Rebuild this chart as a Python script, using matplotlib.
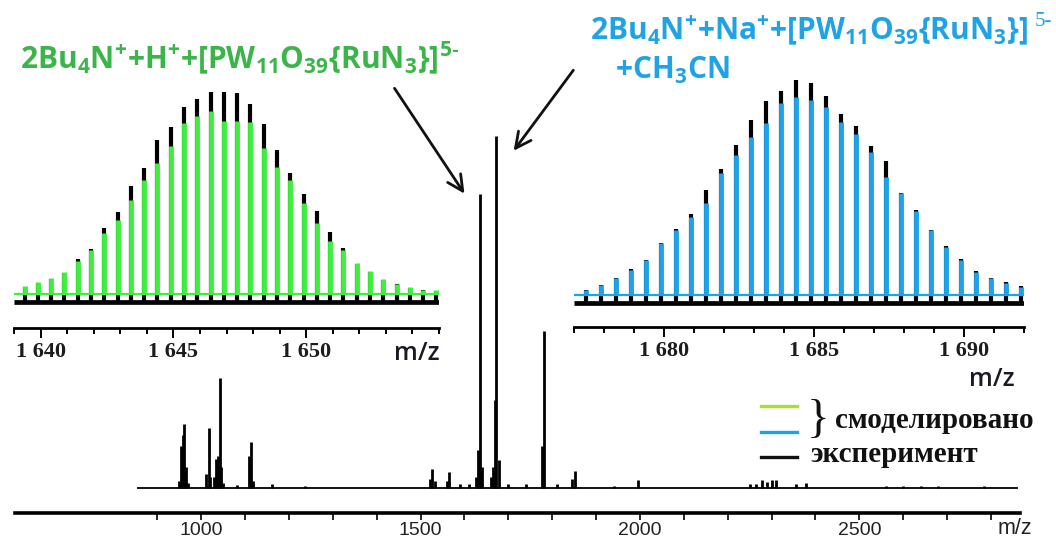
import matplotlib
matplotlib.use('Agg')
import matplotlib.pyplot as plt
from matplotlib.lines import Line2D
from matplotlib.patches import FancyArrowPatch

plt.rcParams['mathtext.fontset'] = 'custom'
plt.rcParams['mathtext.rm'] = 'Open Sans'
plt.rcParams['mathtext.bf'] = 'Open Sans:bold'
plt.rcParams['mathtext.it'] = 'Open Sans:italic'

# ---------------- data ----------------
# full spectrum: m/z and relative intensity (%)
main_mz = [950, 954, 958, 962, 966, 970, 1011, 1017, 1021, 1030, 1034, 1038, 1042, 1046, 1050,
           1081, 1110, 1114, 1118, 1161, 1237, 1522, 1527, 1532, 1560, 1565, 1590, 1610, 1626,
           1630, 1635, 1640, 1660, 1665, 1669, 1673, 1678, 1700, 1740, 1776, 1781, 1810, 1846,
           1851, 1942, 1995, 2250, 2265, 2279, 2290, 2301, 2310, 2356, 2379, 2560, 2600, 2640,
           2680, 2784]
main_int = [2.0, 11.9, 15.0, 18.2, 6.0, 1.5, 4.0, 17.0, 3.0, 3.0, 8.2, 9.0, 31.2, 6.0, 1.5,
            0.8, 9.1, 13.1, 2.0, 1.2, 0.6, 2.5, 5.4, 2.0, 2.0, 4.5, 1.0, 1.0, 3.0,
            10.8, 83.5, 6.0, 3.0, 6.0, 25.0, 100.0, 8.0, 1.0, 1.0, 12.0, 44.6, 1.0, 2.5,
            4.8, 0.6, 2.3, 1.0, 1.2, 2.3, 1.6, 2.3, 2.3, 1.1, 1.4, 0.5, 0.5, 0.5,
            0.5, 0.6]
main_ticks = [1000, 1500, 2000, 2500]
main_minor = [900, 1100, 1200, 1300, 1400, 1600, 1700, 1800, 1900, 2100, 2200, 2300, 2400,
              2600, 2700, 2800]

# left inset: 2Bu4N+ + H+ + [PW11O39{RuN3}]5-
iso1_mz = [1639.4, 1639.9, 1640.4, 1640.9, 1641.4, 1641.9, 1642.4, 1642.9, 1643.4, 1643.9,
           1644.4, 1644.9, 1645.4, 1645.9, 1646.4, 1646.9, 1647.4, 1647.9, 1648.4, 1648.9,
           1649.4, 1649.9, 1650.4, 1650.9, 1651.4, 1651.9, 1652.4, 1652.9, 1653.4, 1653.9,
           1654.4, 1654.9]
iso1_sim = [8, 12, 16, 22, 33, 44, 61, 74, 94, 114, 131, 148, 171, 178, 183, 173, 173, 172,
            146, 127, 114, 91, 71, 53, 44, 31, 23, 15, 10, 7, 4, 4]
iso1_exp = [15, 19, 23, 29, 43, 53, 74, 90, 116, 134, 162, 175, 195, 203, 210, 210, 209, 198,
            178, 152, 129, 108, 91, 70, 54, 38, 30, 22, 18, 14, 12, 11]
iso1_ticks = [1640, 1645, 1650]
iso1_labels = ['1 640', '1 645', '1 650']

# right inset: 2Bu4N+ + Na+ + [PW11O39{RuN3}]5- + CH3CN
iso2_mz = [1677.4, 1677.9, 1678.4, 1678.9, 1679.4, 1679.9, 1680.4, 1680.9, 1681.4, 1681.9,
           1682.4, 1682.9, 1683.4, 1683.9, 1684.4, 1684.9, 1685.4, 1685.9, 1686.4, 1686.9,
           1687.4, 1687.9, 1688.4, 1688.9, 1689.4, 1689.9, 1690.4, 1690.9, 1691.4, 1691.9]
iso2_sim = [5, 10, 17, 25, 35, 52, 65, 78, 92, 122, 140, 158, 172, 192, 198, 195, 188, 173,
            161, 143, 118, 102, 84, 65, 48, 35, 23, 17, 12, 8]
iso2_exp = [13, 18, 25, 34, 43, 60, 74, 89, 113, 134, 158, 183, 202, 212, 223, 220, 207, 189,
            177, 157, 142, 110, 93, 73, 57, 44, 32, 25, 21, 17]
iso2_ticks = [1680, 1685, 1690]
iso2_labels = ['1 680', '1 685', '1 690']

GREEN = '#3cf03c'
BLUE = '#1ea3ea'
TGREEN = '#3bb54a'
TBLUE = '#1fa3e4'
LGREEN = '#a6e22a'

W, H = 1056, 550
def fx(x): return x / W
def fy(y): return 1 - y / H

fig = plt.figure(figsize=(10.56, 5.5), dpi=100)

# ---------------- main spectrum ----------------
ax = fig.add_axes([fx(15), fy(513), (1020 - 15) / W, (513 - 130) / H])
ax.set_xlim(576, 2866)
ax.set_ylim(-7.1, 101.7)
ax.hlines(0, 855, 2862, color='k', lw=1.3)
ax.vlines(main_mz, 0, main_int, color='k', lw=2.0)
for s in ['left', 'right', 'top']:
    ax.spines[s].set_visible(False)
ax.spines['bottom'].set_linewidth(2.6)
ax.set_yticks([])
ax.set_xticks(main_ticks)
ax.set_xticklabels([str(t) for t in main_ticks], fontsize=14, family='Liberation Sans', color='#222222')
ax.set_xticks(main_minor, minor=True)
ax.tick_params(axis='x', which='both', direction='out', length=5, width=1.2, pad=1.5)
ax.patch.set_alpha(0)
fig.text(fx(1015), fy(528), 'm/z', fontsize=15.5, family='Liberation Sans', color='#222222',
         ha='center', va='center')

# ---------------- insets ----------------
def inset(rect, xlim, ylim_top, mz, sim, exp, base_sim, base_exp, col, ticks, labels):
    a = fig.add_axes(rect)
    a.set_xlim(*xlim)
    a.set_ylim(0, ylim_top)
    a.hlines(base_exp, xlim[0], xlim[1], color='k', lw=3.4)
    a.vlines(mz, base_exp, [base_exp + e for e in exp], color='k', lw=3.0)
    a.hlines(base_sim, xlim[0], xlim[1], color=col, lw=1.6)
    a.vlines(mz, base_sim, [base_sim + s for s in sim], color=col, lw=3.5)
    for s in ['left', 'right', 'top']:
        a.spines[s].set_visible(False)
    a.spines['bottom'].set_linewidth(2.0)
    a.set_yticks([])
    a.set_xticks(ticks)
    a.set_xticklabels(labels, fontsize=16, family='Liberation Serif', weight='bold', color='#1c1c1c')
    a.set_xticks(list(range(int(xlim[0]), int(xlim[1]) + 1)), minor=True)
    a.tick_params(axis='x', which='major', direction='out', length=7, width=1.4, pad=3)
    a.tick_params(axis='x', which='minor', direction='out', length=4.5, width=1.4)
    a.patch.set_alpha(0)
    return a

inset([fx(14), fy(328), (439 - 14) / W, (328 - 80) / H], (1639, 1655), 248,
      iso1_mz, iso1_sim, iso1_exp, 34, 26, GREEN, iso1_ticks, iso1_labels)
inset([fx(574), fy(327), (1024 - 574) / W, (327 - 60) / H], (1677, 1692), 267,
      iso2_mz, iso2_sim, iso2_exp, 32, 24, BLUE, iso2_ticks, iso2_labels)

fig.text(fx(417), fy(353), 'm/z', fontsize=18, family='Open Sans', weight='semibold',
         color='#1a1a24', ha='center', va='center')
fig.text(fx(992), fy(379), 'm/z', fontsize=18, family='Open Sans', weight='semibold',
         color='#1a1a24', ha='center', va='center')

# ---------------- titles ----------------
fig.text(fx(20), fy(58),
         '$\\mathbf{2Bu_4N^{+}{+}H^{+}{+}[PW_{11}O_{39}\\{RuN_3\\}]^{5\u2010}}$',
         fontsize=21.5, color=TGREEN, ha='left', va='center')
fig.text(fx(590), fy(30),
         r'$\mathbf{2Bu_4N^{+}{+}Na^{+}{+}[PW_{11}O_{39}\{RuN_3\}]}$',
         fontsize=21.5, color=TBLUE, ha='left', va='center')
fig.text(fx(1035), fy(21), '5-', fontsize=15, family='Liberation Serif', color=TBLUE,
         ha='left', va='center')
fig.text(fx(615), fy(70), r'$\mathbf{{+}CH_3CN}$', fontsize=21.5, color=TBLUE,
         ha='left', va='center')

# ---------------- arrows ----------------
for (x0, y0), (x1, y1) in [((393, 86), (466, 196)), ((575, 68), (512, 153))]:
    fig.add_artist(FancyArrowPatch((fx(x0), fy(y0)), (fx(x1), fy(y1)),
                                   transform=fig.transFigure, arrowstyle='->',
                                   mutation_scale=28, lw=2.0, color='#111111'))

# ---------------- legend ----------------
for y, c in [(406, LGREEN), (432, BLUE), (457, '#111111')]:
    fig.add_artist(Line2D([fx(761), fx(797)], [fy(y), fy(y)], color=c, lw=2.4,
                          transform=fig.transFigure))
fig.text(fx(818), fy(421), '}', fontsize=34, family='Liberation Serif', color='#111111',
         ha='center', va='center')
fig.text(fx(835), fy(421), 'смоделировано', fontsize=21, family='Liberation Serif',
         weight='bold', color='#111111', ha='left', va='center')
fig.text(fx(810), fy(454), 'эксперимент', fontsize=21, family='Liberation Serif',
         weight='bold', color='#111111', ha='left', va='center')

fig.savefig('out.png', dpi=100)
